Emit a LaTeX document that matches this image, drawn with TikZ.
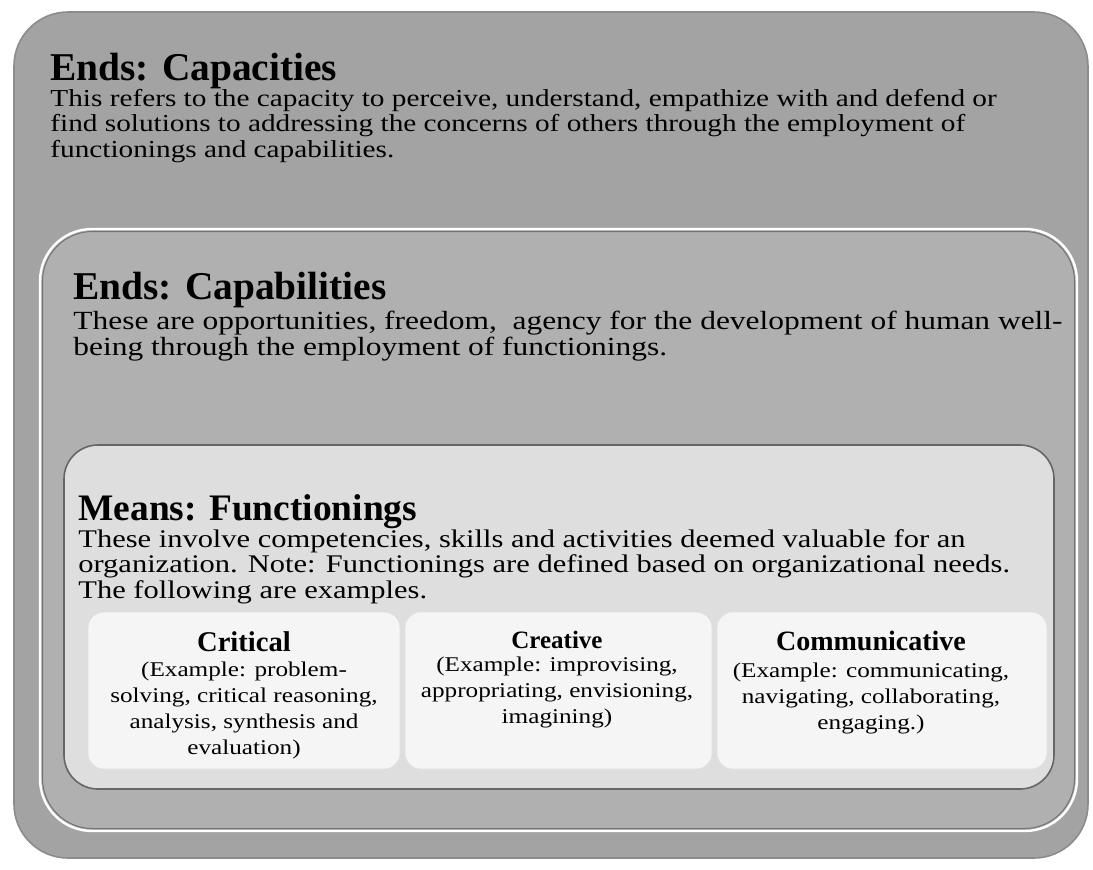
\documentclass[tikz,border=0pt]{standalone}
\usepackage{fontspec}
\setmainfont{Liberation Serif}
\newfontfamily\widefont[FakeStretch=1.2]{Liberation Serif}

\definecolor{capacitygray}{gray}{0.64}
\definecolor{capabilitygray}{gray}{0.69}
\definecolor{meansgray}{gray}{0.87}
\definecolor{examplegray}{gray}{0.96}

\tikzset{
	panel/.style={fill=#1, draw=white, line width=1.2pt},
	rim/.style={draw=black!55, line width=0.5pt},
	heading/.style={anchor=base west, inner sep=0pt, font=\fontsize{#1}{#1}\selectfont\bfseries},
	% multi-line texts are placed by the baseline of their last line
	blurb/.style={anchor=base west, inner sep=0pt, align=left, font=\widefont\fontsize{#1}{12.7}\selectfont},
	example/.style={fill=examplegray, draw=black!12, line width=0.3pt, rounded corners=8pt},
	exhead/.style={anchor=base, inner sep=0pt, font=\fontsize{#1}{#1}\selectfont\bfseries},
	exlabel/.style={anchor=base, inner sep=0pt, align=center, font=\widefont\fontsize{10.5}{12.9}\selectfont}
}

\begin{document}
\begin{tikzpicture}[x=0.5pt, y=-0.5pt]
	\useasboundingbox (0,0) rectangle (1093,869);
	% outermost panel: capacities
	\draw[fill=capacitygray, draw=black!45, line width=0.8pt, rounded corners=27pt] (14,12) rectangle (1088,858);
	% capabilities panel, white rim with a dark edge inside
	\draw[panel=capabilitygray, rounded corners=26pt] (40,229) rectangle (1077,831);
	\draw[rim, rounded corners=25pt] (42.5,231.5) rectangle (1074.5,828.5);
	% means panel
	\draw[fill=meansgray, draw=black!60, line width=0.8pt, rounded corners=17pt] (64,445) rectangle (1054,789);
	% example cells
	\foreach \xl/\xr in {88/400, 405/712, 717/1047}
		\draw[example] (\xl,612) rectangle (\xr,769);

	\node[heading=19.7] (capTitle) at (50,80) {Ends: Capacities};
	\node[blurb=12.2] (capText) at (50,157) {This refers to the capacity to perceive, understand, empathize with and defend or\\
		find solutions to addressing the concerns of others through the employment of\\
		functionings and capabilities.};

	\node[heading=19.7] (cabTitle) at (73,299) {Ends: Capabilities};
	\node[blurb=13.1] (cabText) at (73,355) {These are opportunities, freedom,~ agency for the development of human well-\\
		being through the employment of functionings.};

	\node[heading=18.7] (meansTitle) at (78,520) {Means: Functionings};
	\node[blurb=12.7] (meansText) at (78,598) {These involve competencies, skills and activities deemed valuable for an\\
		organization. Note: Functionings are defined based on organizational needs.\\
		The following are examples.};

	% examples of functionings
	\node[exhead=14.3] (critical) at (244,651) {Critical};
	\node[exlabel] (criticalText) at (244,754) {(Example: problem-\\ solving, critical reasoning,\\ analysis, synthesis and\\ evaluation)};
	\node[exhead=12.5] (creative) at (557,648) {Creative};
	\node[exlabel] (creativeText) at (557,723) {(Example: improvising,\\ appropriating, envisioning,\\ imagining)};
	\node[exhead=14] (communicative) at (871,650) {Communicative};
	\node[exlabel] (communicativeText) at (871,729) {(Example: communicating,\\ navigating, collaborating,\\ engaging.)};
\end{tikzpicture}
\end{document}
